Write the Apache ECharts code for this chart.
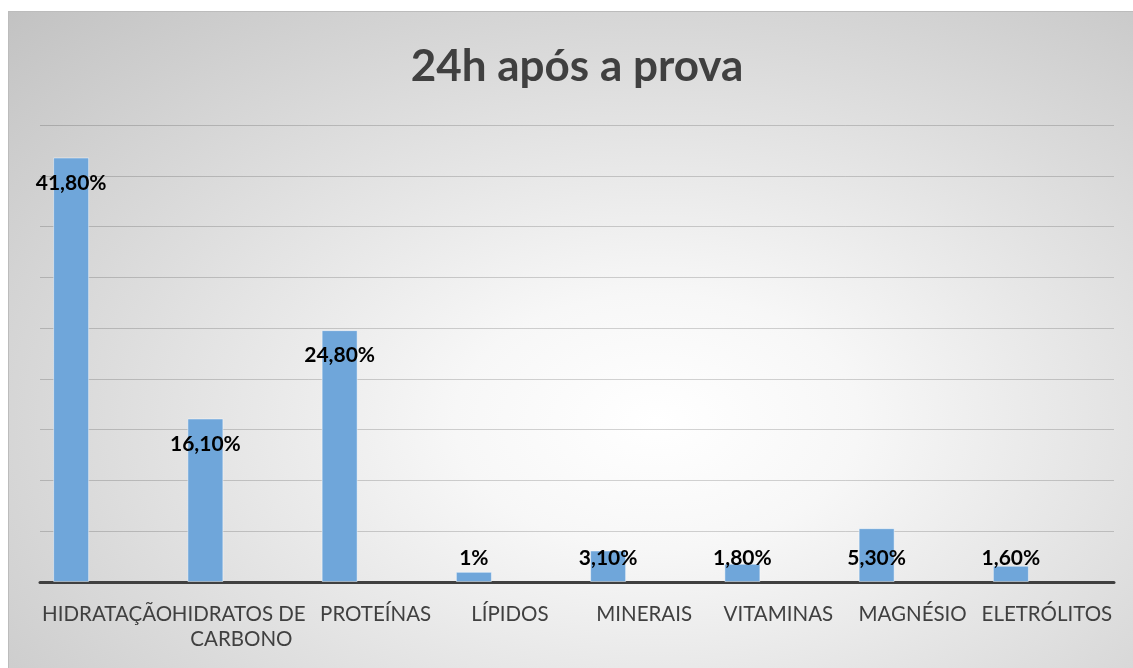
<!DOCTYPE html>
<html>
<head>
<meta charset="utf-8">
<script src="https://cdn.jsdelivr.net/npm/echarts@6/dist/echarts.min.js"></script>
<style>
  html, body { margin: 0; padding: 0; background: #ffffff; overflow: hidden; }
  #chart {
    position: absolute; left: 8px; top: 11px; width: 1136px; height: 660px;
    border-top: 1px solid #bcbcbc; border-left: 1px solid #bcbcbc;
    background: radial-gradient(ellipse farthest-corner at 57% 62%, #ffffff 0%, #f7f7f7 22%, #dddddd 60%, #c2c2c2 100%);
  }
</style>
</head>
<body>
<div id="chart"></div>
<script>
const titleText = '24h após a prova';
const categories = ['HIDRATAÇÃO', 'HIDRATOS DE CARBONO', 'PROTEÍNAS', 'LÍPIDOS', 'MINERAIS', 'VITAMINAS', 'MAGNÉSIO', 'ELETRÓLITOS'];
const values = [41.8, 16.1, 24.8, 1, 3.1, 1.8, 5.3, 1.6];
const yMin = 0, yMax = 45, yInterval = 5;
const smallThreshold = 6;
const FONT = 'Lato, "Open Sans", sans-serif';

function fmt(v) {
  if (Number.isInteger(v)) return v + '%';
  return v.toFixed(2).replace('.', ',') + '%';
}

const chart = echarts.init(document.getElementById('chart'));
const labelBase = { show: true, color: '#000000', fontWeight: 'bold', fontSize: 21, fontFamily: FONT,
  formatter: p => fmt(p.value) };
const seriesData = values.map(v => ({
  value: v,
  label: v < smallThreshold ? { position: 'insideBottom', distance: 13 } : { position: 'insideTop', distance: 15 }
}));
const empty = categories.map(() => '-');

chart.setOption({
  backgroundColor: 'transparent',
  title: {
    text: titleText, left: 'center', top: 28,
    textStyle: { fontSize: 44, fontWeight: 'bold', color: '#404040', fontFamily: FONT }
  },
  grid: { left: 31, right: 31, top: 113, bottom: 90, containLabel: false },
  xAxis: {
    type: 'category', data: categories,
    axisLine: { lineStyle: { color: '#404040', width: 3 } },
    axisTick: { show: false },
    axisLabel: { interval: 0, color: '#404040', fontSize: 20.5, margin: 20, lineHeight: 25, width: 150, overflow: 'break',
      fontFamily: FONT }
  },
  yAxis: {
    type: 'value', min: yMin, max: yMax, interval: yInterval,
    axisLabel: { show: false }, axisLine: { show: false }, axisTick: { show: false },
    splitLine: { lineStyle: { color: 'rgba(0,0,0,0.17)', width: 1 } }
  },
  series: [
    { type: 'bar', data: seriesData, barWidth: 36, barGap: '0%',
      itemStyle: { color: '#6fa6da', borderColor: 'rgba(255,255,255,0.45)', borderWidth: 1 },
      label: labelBase, silent: true, animation: false },
    { type: 'bar', data: empty, barWidth: 36, barGap: '0%', silent: true, animation: false },
    { type: 'bar', data: empty, barWidth: 36, barGap: '0%', silent: true, animation: false }
  ]
});
</script>
</body>
</html>
